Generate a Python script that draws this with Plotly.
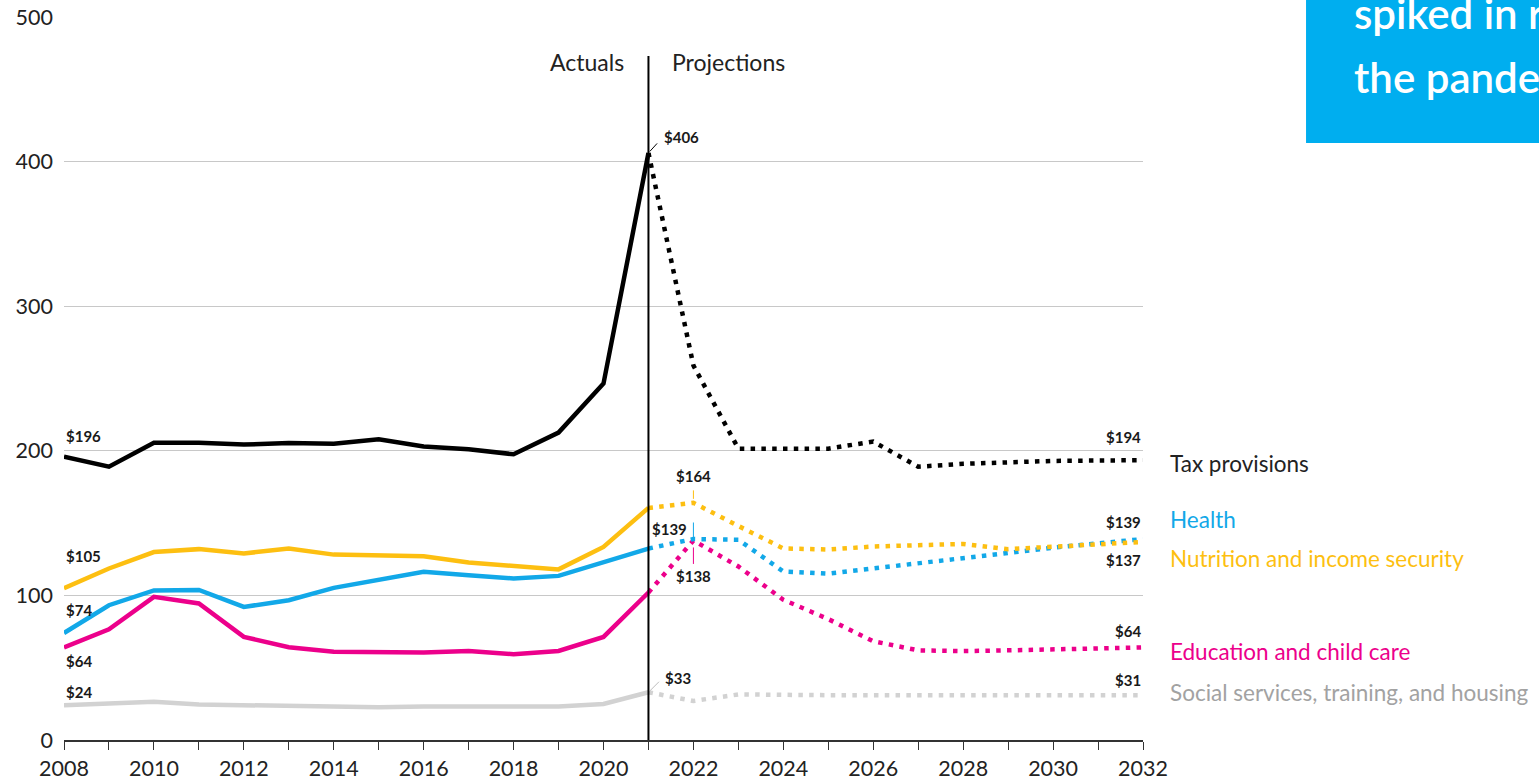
import plotly.graph_objects as go

# --- data (billions of dollars) ---
years_actual = list(range(2008, 2022))
years_proj = list(range(2021, 2033))

tax_actual = [196, 189, 205.5, 205.5, 204.3, 205.4, 204.8, 208, 203, 201, 197.6, 212.6, 246.5, 406]
tax_proj = [406, 259, 201.5, 201.5, 201.5, 206.4, 189, 191, 192.3, 193, 193.3, 193.5]

nutrition_actual = [105, 118.6, 130, 132, 129, 132.4, 128.2, 127.8, 127, 122.7, 120.4, 118, 133.5, 160.5]
nutrition_proj = [160.5, 164, 148, 132.5, 131.7, 133.8, 134.7, 135.6, 132, 133.6, 135, 137]

health_actual = [74, 93.2, 103.4, 103.8, 92, 96.7, 105.2, 110.5, 116.3, 114, 111.7, 113.5, 123.2, 132.4]
health_proj = [132.4, 139, 138.5, 116.5, 115, 118.6, 122.5, 126, 130, 133, 136, 139]

education_actual = [64, 76.6, 99, 94.4, 71.3, 64.2, 61, 60.5, 60.5, 61.6, 59.3, 61.6, 71.3, 102]
education_proj = [102, 138, 120, 97, 83.6, 68.3, 62, 61.5, 62, 62.7, 63.3, 64]

social_actual = [24, 25.2, 26.4, 24.5, 24, 23.6, 23.1, 22.7, 23.1, 23.1, 23.6, 23.1, 24.9, 33]
social_proj = [33, 27, 31.5, 31, 31, 31, 31, 31, 31, 31, 31, 31]

series_names = [
    "Social services, training, and housing",
    "Education and child care",
    "Health",
    "Nutrition and income security",
    "Tax provisions",
]
start_labels = ["$24", "$64", "$74", "$105", "$196"]
end_labels = ["$31", "$64", "$139", "$137", "$194"]
peak_labels = ["$33", "$138", "$139", "$164", "$406"]
peak_years = [2021, 2022, 2022, 2022, 2021]

x_tick_years = list(range(2008, 2033))
y_ticks = [0, 100, 200, 300, 400, 500]

ACTUALS_END = 2021
DIVIDER_TOP = 473

# colours / label placement (pixels) per series, same order as series_names
colors = ["#d2d2d2", "#ec008b", "#12a8e8", "#fdbf11", "#000000"]
name_colors = ["#a2a2a2", "#ec008b", "#12a8e8", "#fdbf11", "#222222"]
start_shift = [13, -14, 23, 32, 21]
end_shift = [15, 16, 17, -18, 23]
name_shift = [3, -4, 20, -17, -3]
# peak label: (xanchor, xshift, yshift) and leader (ax, ay, standoff)
peak_text = [("left", 15, 14), ("center", 0, -36), ("right", -4, 10), ("center", 0, 27), ("left", 14, 16)]
peak_leader = [(12, -12, 2), (0, 25, 7), (0, -18, 2), (0, -14, 4), (10, -11, 2)]

actual = [social_actual, education_actual, health_actual, nutrition_actual, tax_actual]
proj = [social_proj, education_proj, health_proj, nutrition_proj, tax_proj]

FONT = "Lato"
fig = go.Figure()

for i, name in enumerate(series_names):
    fig.add_trace(go.Scatter(
        x=years_actual, y=actual[i], mode="lines", name=name,
        line=dict(color=colors[i], width=4.5), hoverinfo="skip",
    ))
    fig.add_trace(go.Scatter(
        x=years_proj, y=proj[i], mode="lines", name=name + " (projected)",
        line=dict(color=colors[i], width=4.5, dash="4.5px,6.3px"), hoverinfo="skip",
    ))

label_font = dict(family=FONT, size=15, color="#1a1a1a", weight=700)

for i, name in enumerate(series_names):
    # starting value
    fig.add_annotation(x=years_actual[0], y=actual[i][0], text=start_labels[i],
                       showarrow=False, xanchor="left", yshift=start_shift[i], font=label_font)
    # final value
    fig.add_annotation(x=years_proj[-1], y=proj[i][-1], text=end_labels[i],
                       showarrow=False, xanchor="right", yshift=end_shift[i], font=label_font)
    # series name on the right
    fig.add_annotation(x=years_proj[-1], y=proj[i][-1], text=name, showarrow=False,
                       xanchor="left", xshift=25, yshift=name_shift[i],
                       font=dict(family=FONT, size=22.5, color=name_colors[i]))
    # peak value with small leader
    py = peak_years[i]
    pv = (actual[i] + proj[i][1:])[(years_actual + years_proj[1:]).index(py)]
    xa, xs, ys = peak_text[i]
    fig.add_annotation(x=py, y=pv, text=peak_labels[i], showarrow=False,
                       xanchor=xa, xshift=xs, yshift=ys, font=label_font)
    ax, ay, so = peak_leader[i]
    lead_color = "#000000" if i == 4 else ("#bdbdbd" if i == 0 else colors[i])
    fig.add_annotation(x=py, y=pv, text="", showarrow=True, arrowhead=0, arrowwidth=1,
                       arrowcolor=lead_color, ax=ax, ay=ay, standoff=so)

# actuals / projections divider
fig.add_shape(type="line", x0=ACTUALS_END, x1=ACTUALS_END, y0=0, y1=DIVIDER_TOP,
              line=dict(color="#000000", width=2), layer="above")
fig.add_annotation(x=ACTUALS_END, y=DIVIDER_TOP, text="Actuals", showarrow=False,
                   xanchor="right", xshift=-22, yshift=-6,
                   font=dict(family=FONT, size=23, color="#222222"))
fig.add_annotation(x=ACTUALS_END, y=DIVIDER_TOP, text="Projections", showarrow=False,
                   xanchor="left", xshift=22, yshift=-6,
                   font=dict(family=FONT, size=23, color="#222222"))

# cropped callout box at top right
fig.add_shape(type="rect", xref="paper", yref="paper", x0=1.1511, x1=1.5, y0=0.8257, y1=1.2,
              fillcolor="#00aeef", line=dict(width=0), layer="above")
fig.add_annotation(xref="paper", yref="paper", x=1.1937, y=1.006, text="spiked in response to",
                   showarrow=False, xanchor="left", yanchor="middle",
                   font=dict(family=FONT, size=42, color="#ffffff", weight=600))
fig.add_annotation(xref="paper", yref="paper", x=1.1937, y=0.917, text="the pandemic",
                   showarrow=False, xanchor="left", yanchor="middle",
                   font=dict(family=FONT, size=42, color="#ffffff", weight=600))

fig.update_layout(
    width=1539, height=783,
    margin=dict(l=64, r=396, t=17, b=43),
    plot_bgcolor="#ffffff", paper_bgcolor="#ffffff",
    showlegend=False,
    font=dict(family=FONT, color="#222222"),
    xaxis=dict(
        range=[2008, 2032], tickvals=x_tick_years,
        ticktext=[str(y) if y % 2 == 0 else "" for y in x_tick_years],
        ticks="outside", ticklen=8, tickcolor="#333333", tickwidth=1,
        showline=True, linecolor="#333333", linewidth=2,
        showgrid=False, zeroline=False, automargin=False,
        tickfont=dict(family=FONT, size=21.5, color="#222222"),
    ),
    yaxis=dict(
        range=[0, 500], tickvals=y_ticks, showgrid=True, gridcolor="#c8c8c8", gridwidth=1,
        zeroline=False, showline=False, ticks="", ticklabelstandoff=10, automargin=False,
        tickfont=dict(family=FONT, size=21.5, color="#222222"),
    ),
)

# page body margin would shift the figure by 8px
fig.write_html("out.html", config={"displayModeBar": False},
               post_script="document.body.style.margin='0';")
